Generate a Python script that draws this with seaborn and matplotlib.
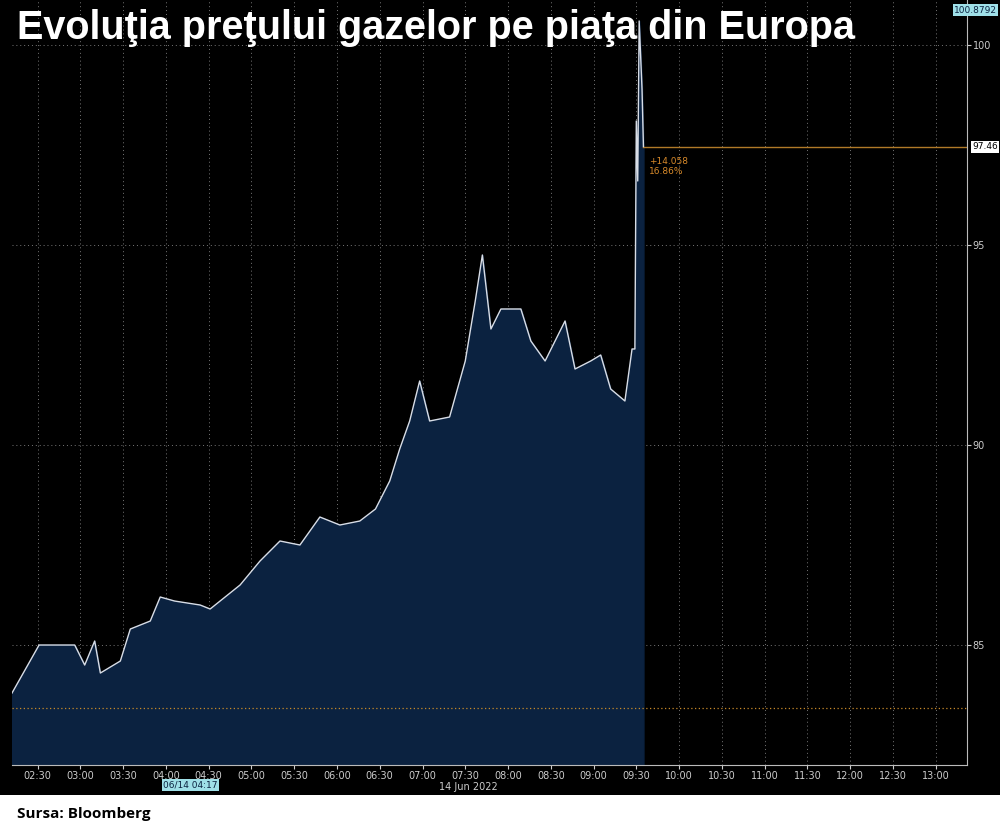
import matplotlib
matplotlib.use("Agg")
import matplotlib.pyplot as plt
import matplotlib.dates as mdates
import pandas as pd
import seaborn as sns

times = ["02:12", "02:31", "02:56", "03:03", "03:10", "03:14", "03:28", "03:35",
         "03:49", "03:56", "04:06", "04:24", "04:31", "04:52", "05:06", "05:20",
         "05:34", "05:48", "06:02", "06:16", "06:27", "06:37", "06:44", "06:51",
         "06:58", "07:05", "07:19", "07:30", "07:37", "07:42", "07:48", "07:55",
         "08:09", "08:16", "08:26", "08:40", "08:47", "08:58", "09:05", "09:12",
         "09:22", "09:27", "09:29", "09:30", "09:31", "09:32", "09:34", "09:35"]
prices = [83.8, 85.0, 85.0, 84.5, 85.1, 84.3, 84.6, 85.4,
          85.6, 86.2, 86.1, 86.0, 85.9, 86.5, 87.1, 87.6,
          87.5, 88.2, 88.0, 88.1, 88.4, 89.1, 89.9, 90.6,
          91.6, 90.6, 90.7, 92.1, 93.6, 94.75, 92.9, 93.4,
          93.4, 92.6, 92.1, 93.1, 91.9, 92.1, 92.25, 91.4,
          91.1, 92.4, 92.4, 98.1, 96.6, 100.6, 98.9, 97.46]
last_price = 97.46
low_price = 83.43

df = pd.DataFrame({"time": pd.to_datetime(["2022-06-14 " + t for t in times]),
                   "price": prices})

fig = plt.figure(figsize=(10, 8.35), dpi=100, facecolor="black")
ax = fig.add_axes([0.012, 0.0838, 0.955, 0.916], facecolor="black")

ax.fill_between(df["time"], df["price"], 80, color="#0b2240", zorder=1)
sns.lineplot(data=df, x="time", y="price", ax=ax, color="#d8dde6", lw=1, zorder=3)

t0 = pd.Timestamp("2022-06-14 02:12")
t1 = pd.Timestamp("2022-06-14 13:22")
ax.set_xlim(t0, t1)
ax.set_ylim(82, 101.12)

ax.axhline(low_price, color="#c88a2a", ls=(0, (1, 2)), lw=0.9, zorder=2)
ax.plot([df["time"].iloc[-1], t1], [last_price, last_price], color="#b07a28", lw=1, zorder=2)
ax.text(df["time"].iloc[-1] + pd.Timedelta(minutes=4), 97.2, "+14.058\n16.86%",
        color="#d88a2a", fontsize=6.5, va="top")

ax.xaxis.set_major_locator(mdates.MinuteLocator(byminute=[0, 30]))
ax.xaxis.set_major_formatter(mdates.DateFormatter("%H:%M"))
ax.yaxis.tick_right()
ax.set_yticks([85, 90, 95, 100])
ax.tick_params(colors="#cccccc", labelsize=7, length=3, pad=1)
ax.grid(True, color="#777777", ls=(0, (1, 3)), lw=0.7)
ax.set_axisbelow(True)
for s in ["top", "left"]:
    ax.spines[s].set_visible(False)
for s in ["bottom", "right"]:
    ax.spines[s].set_color("#bbbbbb")
ax.set_xlabel("")
ax.set_ylabel("")

fig.text(0.468, 0.054, "14 Jun 2022", color="#cccccc", fontsize=7, ha="center")
fig.text(0.163, 0.057, "06/14 04:17", color="#0b2240", fontsize=6.5,
         bbox=dict(facecolor="#9fe0e8", edgecolor="none", pad=1))
fig.text(0.997, 0.988, "100.8792", color="#0b2240", fontsize=6.5, va="center", ha="right",
         bbox=dict(facecolor="#9fe0e8", edgecolor="none", pad=1))
fig.text(0.972, 0.824, "97.46", color="black", fontsize=6.5, va="center",
         bbox=dict(facecolor="white", edgecolor="none", pad=1))

fig.patches.append(plt.Rectangle((0, 0), 1, 0.048, transform=fig.transFigure,
                                 facecolor="white", zorder=0))
fig.text(0.017, 0.967, "Evoluţia preţului gazelor pe piaţa din Europa", color="white",
         fontsize=28.5, fontweight="bold", family="Liberation Sans", va="center")
fig.text(0.017, 0.025, "Sursa: Bloomberg", color="black", fontsize=11,
         fontweight="bold", family="Open Sans", va="center")

fig.savefig("out.png", dpi=100, facecolor="black")
